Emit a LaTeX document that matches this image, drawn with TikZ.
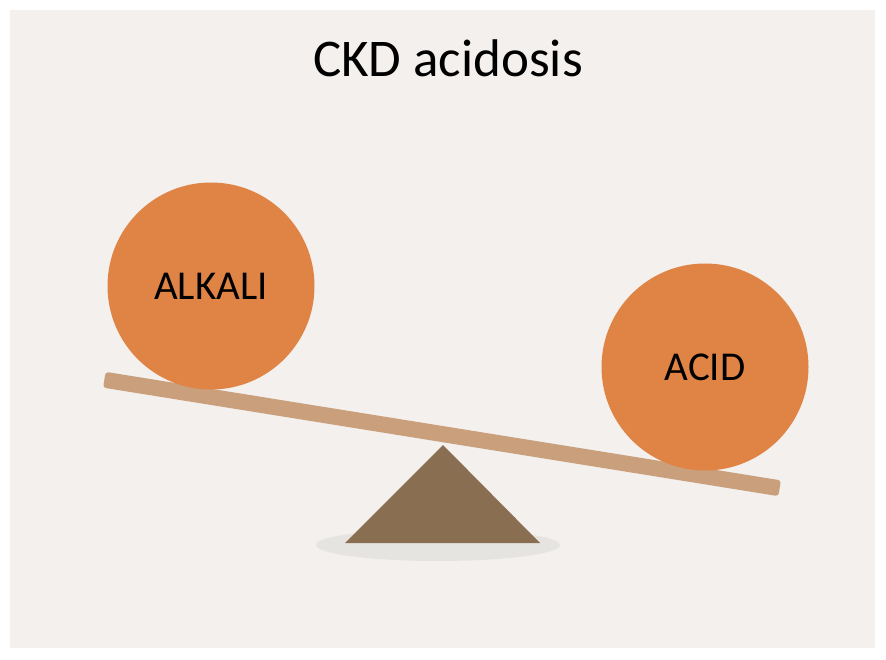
\documentclass[tikz,border=0pt]{standalone}
\usepackage{fontspec}
\setmainfont{Carlito}
\definecolor{bgc}{HTML}{F3F0ED}
\definecolor{ballc}{HTML}{E08446}
\definecolor{beamc}{HTML}{C9A07B}
\definecolor{fulc}{HTML}{8A6E52}
\definecolor{shadc}{HTML}{E6E4E1}
\tikzset{
  ball/.style={circle, fill=ballc, minimum size=207pt, inner sep=0pt, font=\fontsize{41}{41}\selectfont, text=black},
  beam/.style={fill=beamc, rounded corners=3pt, minimum width=684pt, minimum height=16pt, inner sep=0pt, rotate=-9.13},
}
\begin{document}
\begin{tikzpicture}[x=1pt, y=-1pt]
\useasboundingbox (0,0) rectangle (886,660);
\fill[white] (0,0) rectangle (886,660);
\fill[bgc] (10,10) rectangle (875,648);
\node[font=\fontsize{53}{53}\selectfont] (title) at (448,58) {CKD acidosis};
\fill[shadc] (438,545) ellipse [x radius=122, y radius=16];
\node[beam] (beam) at (442,434) {};
\fill[fulc] (443,445) coordinate (apex) -- (540,543) -- (345,543) -- cycle;
\node[ball] (alkali) at (211,286) {ALKALI};
\node[ball] (acid) at (705,367) {ACID};
\end{tikzpicture}
\end{document}
